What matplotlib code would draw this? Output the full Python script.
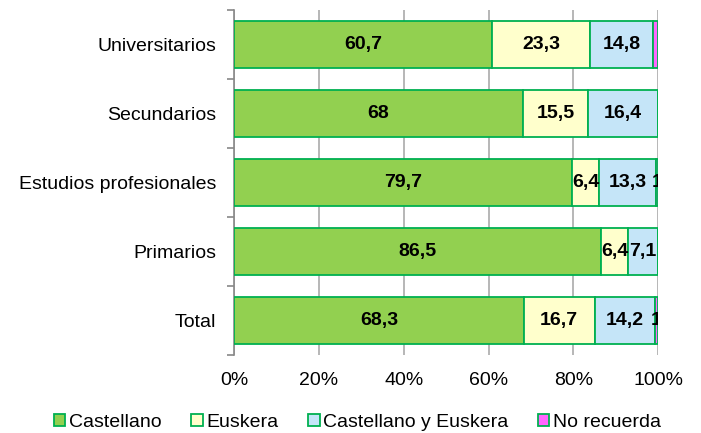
import matplotlib
matplotlib.use("Agg")
import matplotlib.pyplot as plt
import numpy as np

plt.rcParams['font.family'] = ['Liberation Sans', 'DejaVu Sans']

categories = ["Universitarios", "Secundarios", "Estudios profesionales", "Primarios", "Total"]
series_names = ["Castellano", "Euskera", "Castellano y Euskera", "No recuerda"]
castellano = [60.7, 68, 79.7, 86.5, 68.3]
euskera = [23.3, 15.5, 6.4, 6.4, 16.7]
ambos = [14.8, 16.4, 13.3, 7.1, 14.2]
no_recuerda = [1.2, 0.1, 0.6, 0.0, 0.8]
labels_castellano = ["60,7", "68", "79,7", "86,5", "68,3"]
labels_euskera = ["23,3", "15,5", "6,4", "6,4", "16,7"]
labels_ambos = ["14,8", "16,4", "13,3", "7,1", "14,2"]
labels_no = ["", "", "1", "", "1"]
xticks = [0, 20, 40, 60, 80, 100]
xticklabels = ["0%", "20%", "40%", "60%", "80%", "100%"]

colors = ["#92D050", "#FFFFCC", "#C5E5F8", "#FF66FF"]
edge = "#00B050"

fig = plt.figure(figsize=(7.01, 4.33), dpi=100)
ax = fig.add_axes([0.334, 0.18, 0.605, 0.797])

y = np.arange(len(categories))
data = [castellano, euskera, ambos, no_recuerda]
labs = [labels_castellano, labels_euskera, labels_ambos, labels_no]
left = np.zeros(len(categories))
for vals, lab, c, name in zip(data, labs, colors, series_names):
    vals = np.array(vals)
    ax.barh(y, vals, left=left, height=0.69, color=c, edgecolor=edge,
            linewidth=1.3, label=name, zorder=3)
    for yi, (l, v, t) in enumerate(zip(left, vals, lab)):
        if t:
            ax.text(l + v / 2, yi, t, ha='center', va='center', fontsize=14,
                    fontweight='bold', clip_on=True, zorder=4)
    left = left + vals

ax.set_xlim(0, 100)
ax.set_ylim(len(categories) - 0.5, -0.5)
ax.set_xticks(xticks)
ax.set_xticklabels(xticklabels, fontsize=14)
ax.set_yticks(y)
ax.set_yticklabels(categories, fontsize=14)
ax.tick_params(axis='y', length=0, pad=13)
ax.tick_params(axis='x', length=0, pad=12)
ax.set_yticks(np.arange(-0.5, len(categories), 1), minor=True)
ax.tick_params(axis='y', which='minor', length=5, color='#888888', width=1.2)
ax.grid(axis='x', color='#AAAAAA', linewidth=1.2, zorder=0)
for s in ['top', 'right', 'bottom']:
    ax.spines[s].set_visible(False)
ax.spines['left'].set_color('#888888')
ax.spines['left'].set_linewidth(1.2)

leg = fig.legend(loc='lower center', bbox_to_anchor=(0.51, -0.035), ncol=4, frameon=False,
                 fontsize=14, handlelength=0.6, handleheight=0.6, handletextpad=0.2,
                 columnspacing=1.5)
plt.savefig("out.png", dpi=100)
